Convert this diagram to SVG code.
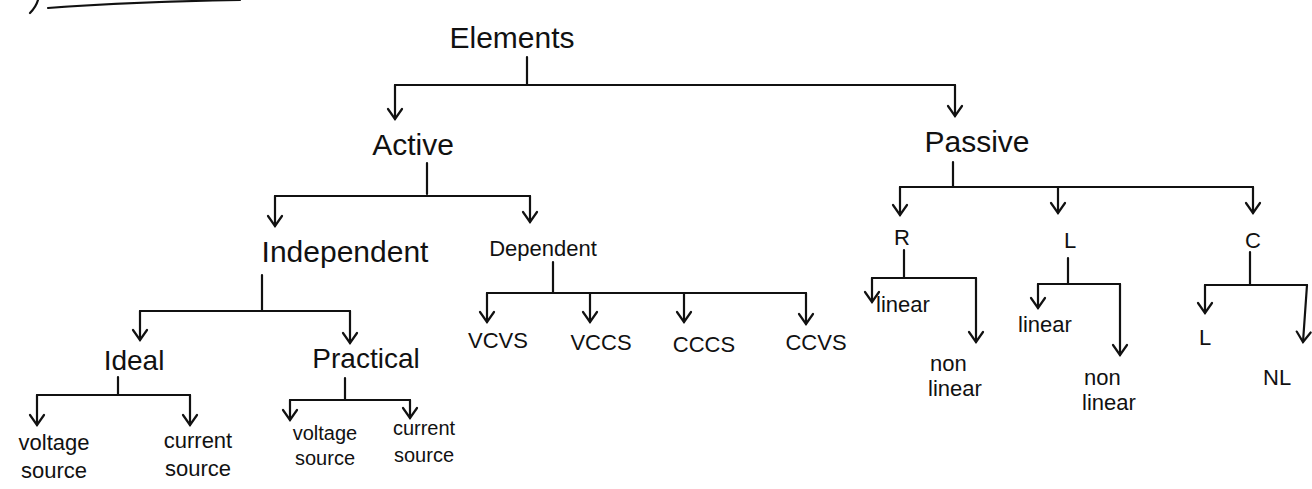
<svg xmlns="http://www.w3.org/2000/svg" width="1312" height="489" viewBox="0 0 1312 489">
<style>
text{font-family:"Liberation Sans","DejaVu Sans",sans-serif;fill:#111;}
.c{stroke:#111;stroke-width:2.2;fill:none;stroke-linecap:round;}
.a{marker-end:url(#arr);}
.l1{font-size:30px;}
.l2{font-size:28px;}
.l3{font-size:22px;}
.l4{font-size:20px;}
</style>
<defs>
<marker id="arr" markerUnits="userSpaceOnUse" markerWidth="20" markerHeight="20" refX="0" refY="0" orient="auto" overflow="visible">
<path d="M-10,-7 L0,0 L-10,7" fill="none" stroke="#111" stroke-width="2.2" stroke-linecap="round"/>
</marker>
</defs>
<rect width="1312" height="489" fill="#fff"/>
<path class="c" d="M30,13 Q36,7 38,0 M48,8 Q130,2 240,0"/>
<g id="connectors">
<path class="c" d="M527,57 V85 M395,85 H955"/>
<path class="c a" d="M395,85 V119"/>
<path class="c a" d="M955,85 V116"/>
<path class="c" d="M427,163 V194 M275,196 H530"/>
<path class="c a" d="M275,196 V226"/>
<path class="c a" d="M530,196 V222"/>
<path class="c" d="M262,275 V310 M140,311 H350"/>
<path class="c a" d="M140,311 V340"/>
<path class="c a" d="M350,311 V343"/>
<path class="c" d="M118,377 V394 M37,395 H190"/>
<path class="c a" d="M37,395 V425"/>
<path class="c a" d="M190,395 V425"/>
<path class="c" d="M345,378 V400 M290,400 H410"/>
<path class="c a" d="M290,400 V420"/>
<path class="c a" d="M410,400 V418"/>
<path class="c" d="M553,262 V292 M487,293 H806"/>
<path class="c a" d="M487,293 V322"/>
<path class="c a" d="M590,293 V322"/>
<path class="c a" d="M684,293 V322"/>
<path class="c a" d="M806,293 V324"/>
<path class="c" d="M953,162 V187 M900,187 H1253"/>
<path class="c a" d="M900,187 V215"/>
<path class="c a" d="M1058,187 V213"/>
<path class="c a" d="M1253,187 V213"/>
<path class="c" d="M904,250 V278 M872,278 H976"/>
<path class="c a" d="M872,278 V302"/>
<path class="c a" d="M976,278 V342"/>
<path class="c" d="M1068,258 V283 M1038,284 H1120"/>
<path class="c a" d="M1038,284 V308"/>
<path class="c a" d="M1120,284 V355"/>
<path class="c" d="M1250,252 V285 M1205,285 H1307"/>
<path class="c a" d="M1205,285 V313"/>
<path class="c a" d="M1307,285 L1303,342"/>
</g>
<g id="n-elements"><text class="l1" x="512" y="48" text-anchor="middle">Elements</text></g>
<g id="n-active"><text class="l1" x="413" y="155" text-anchor="middle">Active</text></g>
<g id="n-passive"><text class="l1" x="977" y="152" text-anchor="middle">Passive</text></g>
<g id="n-independent"><text class="l1" x="345" y="262" text-anchor="middle">Independent</text></g>
<g id="n-dependent"><text class="l3" x="543" y="256" text-anchor="middle" font-size="24">Dependent</text></g>
<g id="n-ideal"><text class="l2" x="134" y="370" text-anchor="middle">Ideal</text></g>
<g id="n-practical"><text class="l2" x="366" y="368" text-anchor="middle">Practical</text></g>
<g id="n-ideal-v"><text class="l3" x="54" y="450" text-anchor="middle">voltage</text><text class="l3" x="54" y="478" text-anchor="middle">source</text></g>
<g id="n-ideal-c"><text class="l3" x="198" y="448" text-anchor="middle">current</text><text class="l3" x="198" y="476" text-anchor="middle">source</text></g>
<g id="n-prac-v"><text class="l4" x="325" y="440" text-anchor="middle">voltage</text><text class="l4" x="325" y="465" text-anchor="middle">source</text></g>
<g id="n-prac-c"><text class="l4" x="424" y="435" text-anchor="middle">current</text><text class="l4" x="424" y="462" text-anchor="middle">source</text></g>
<g id="n-vcvs"><text class="l3" x="498" y="348" text-anchor="middle">VCVS</text></g>
<g id="n-vccs"><text class="l3" x="601" y="350" text-anchor="middle">VCCS</text></g>
<g id="n-cccs"><text class="l3" x="704" y="352" text-anchor="middle">CCCS</text></g>
<g id="n-ccvs"><text class="l3" x="816" y="350" text-anchor="middle">CCVS</text></g>
<g id="n-r"><text class="l3" x="902" y="245" text-anchor="middle">R</text></g>
<g id="n-l"><text class="l3" x="1070" y="248" text-anchor="middle">L</text></g>
<g id="n-c"><text class="l3" x="1253" y="248" text-anchor="middle">C</text></g>
<g id="n-r-lin"><text class="l3" x="876" y="312">linear</text></g>
<g id="n-r-nl"><text class="l3" x="930" y="371">non</text><text class="l3" x="928" y="396">linear</text></g>
<g id="n-l-lin"><text class="l3" x="1018" y="332">linear</text></g>
<g id="n-l-nl"><text class="l3" x="1084" y="385">non</text><text class="l3" x="1082" y="410">linear</text></g>
<g id="n-c-l"><text class="l3" x="1199" y="345">L</text></g>
<g id="n-c-nl"><text class="l3" x="1263" y="385">NL</text></g>
</svg>
